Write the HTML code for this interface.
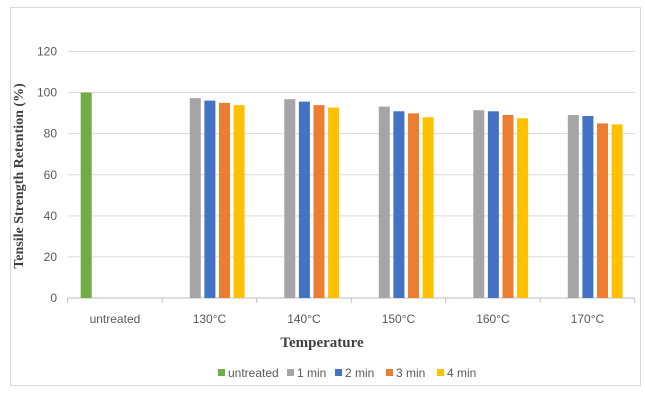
<!DOCTYPE html>
<html><head><meta charset="utf-8"><style>
body{margin:0;background:#fff;width:645px;height:403px;overflow:hidden}
svg text{font-family:"Liberation Sans",sans-serif}
</style></head><body>
<svg width="645" height="403">
<rect x="10.5" y="7.5" width="630" height="378" fill="#fff" stroke="#d9d9d9"/>
<g id="grid"></g><g id="bars"></g><g id="axes"></g>
<text x="322" y="347" text-anchor="middle" style="font-family:'Liberation Serif',serif" font-weight="bold" font-size="15" fill="#404040">Temperature</text>
<text transform="translate(23,176) rotate(-90)" text-anchor="middle" style="font-family:'Liberation Serif',serif" font-weight="bold" font-size="14" fill="#404040">Tensile Strength Retention (%)</text>
<g id="legend"></g>
</svg>
<script>
const categories=["untreated","130°C","140°C","150°C","160°C","170°C"];
const seriesNames=["untreated","1 min","2 min","3 min","4 min"];
const colors=["#70ad47","#a5a5a5","#4472c4","#ed7d31","#ffc000"];
const untreated=[100,null,null,null,null,null];
const min1=[null,97.3,96.8,93.2,91.4,89.1];
const min2=[null,96.1,95.6,90.9,90.9,88.6];
const min3=[null,95,93.9,89.9,89.1,85];
const min4=[null,93.9,92.7,88,87.5,84.5];
const yTicks=[0,20,40,60,80,100,120];
const series=[untreated,min1,min2,min3,min4];
const NS="http://www.w3.org/2000/svg";
const L=67.7,R=634.7,T=51.5,B=298,band=(R-L)/categories.length;
const y=v=>B-(v/120)*(B-T);
const xs=(c,s)=>L+c*band+13+s*14.6;
function mk(tag,attrs,parent){const e=document.createElementNS(NS,tag);for(const k in attrs)e.setAttribute(k,attrs[k]);document.getElementById(parent).appendChild(e);return e;}
yTicks.forEach(t=>{
  const ln=mk('line',{x1:L,x2:R,y1:y(t),y2:y(t),stroke:t===0?'#bfbfbf':'#d9d9d9','stroke-width':1},'grid');
  
  
  const tx=mk('text',{x:57,y:y(t)+4,'text-anchor':'end','font-size':12,fill:'#595959'},'axes');
  tx.textContent=t;
  
  
});
for(let i=0;i<=categories.length;i++){
  const tk=mk('line',{x1:L+i*band,x2:L+i*band,y1:B,y2:B+5,stroke:'#bfbfbf'},'axes');
  
  
}
categories.forEach((c,i)=>{
  const tx=mk('text',{x:L+i*band+band/2,y:323,'text-anchor':'middle','font-size':12,fill:'#595959'},'axes');
  tx.textContent=c;
  
  
});
series.forEach((arr,s)=>arr.forEach((v,c)=>{
  if(v==null)return;
  const r=mk('rect',{x:xs(c,s),y:y(v),width:11,height:B-y(v),fill:colors[s]},'bars');
  
  
}));
const legX=[218,287,335,386,437];
seriesNames.forEach((n,i)=>{
  const g=mk('g',{},'legend');
  
  
  const sq=document.createElementNS(NS,'rect');
  sq.setAttribute('x',legX[i]);sq.setAttribute('y',369);sq.setAttribute('width',7);sq.setAttribute('height',7);sq.setAttribute('fill',colors[i]);
  g.appendChild(sq);
  const t=document.createElementNS(NS,'text');
  t.setAttribute('x',legX[i]+10);t.setAttribute('y',377);t.setAttribute('font-size',12);t.setAttribute('fill','#595959');
  t.textContent=n;g.appendChild(t);
});
</script>
</body></html>
